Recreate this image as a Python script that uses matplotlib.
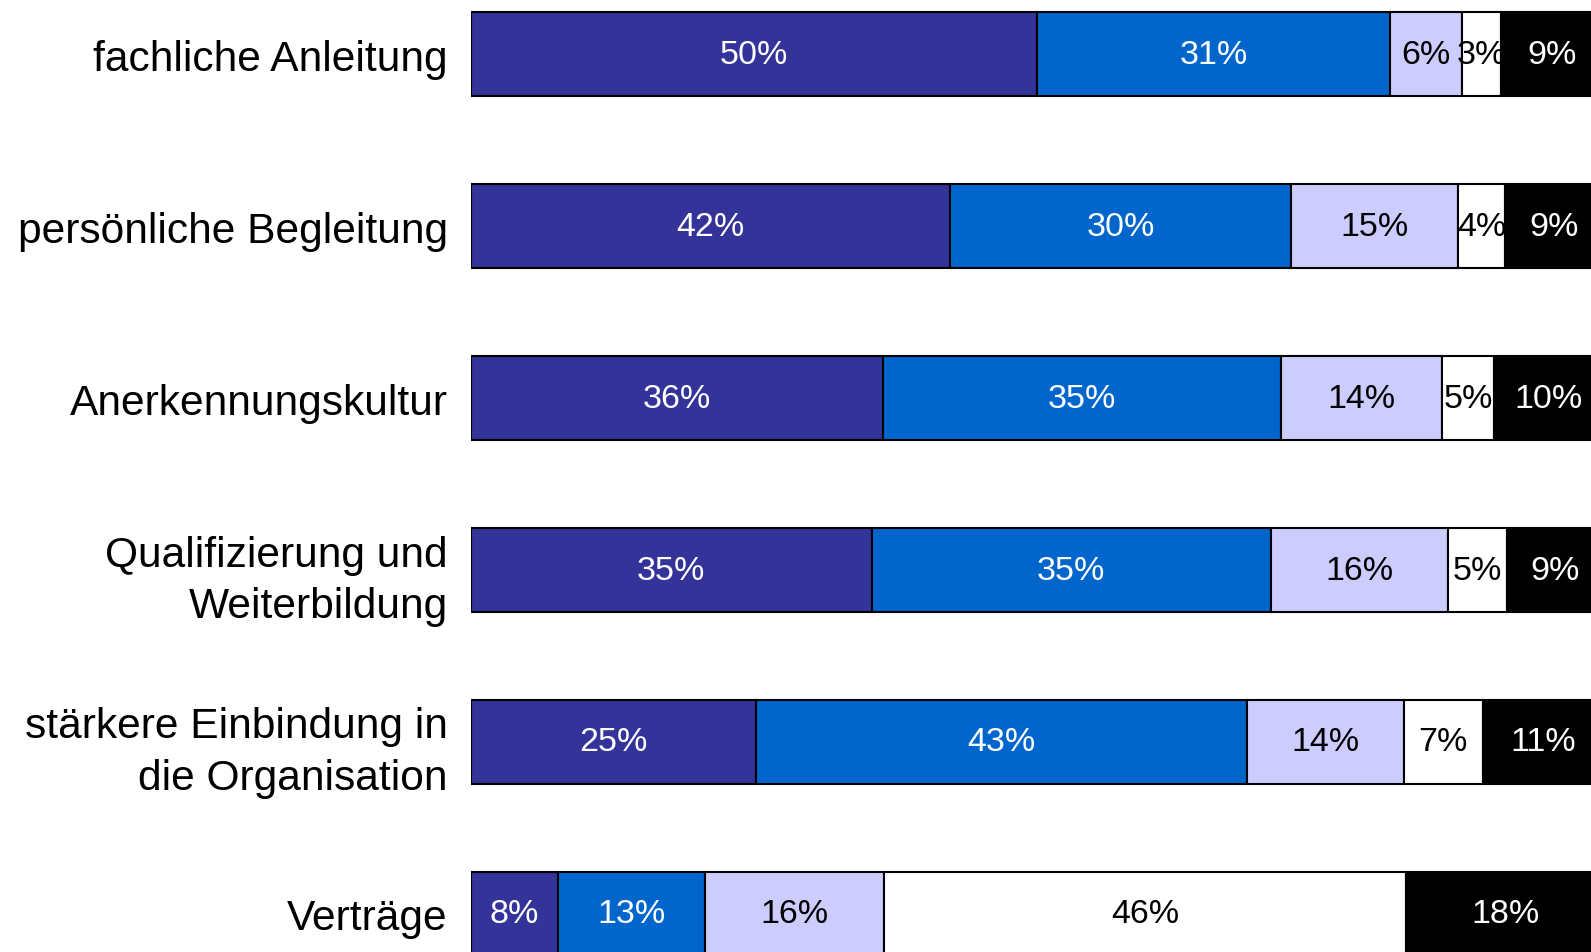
import numpy as np
import matplotlib.pyplot as plt

# Kategorien (von oben nach unten)
kategorien = ["fachliche Anleitung", "persönliche Begleitung", "Anerkennungskultur",
              "Qualifizierung und\nWeiterbildung", "stärkere Einbindung in\ndie Organisation",
              "Verträge"]

# Anteile je Antwortstufe in %
stufe1 = [50.0, 42.3, 36.4, 35.4, 25.2, 7.7]
stufe2 = [31.2, 30.2, 35.2, 35.3, 43.4, 13.0]
stufe3 = [6.4, 14.7, 14.2, 15.6, 13.8, 15.8]
stufe4 = [3.4, 4.2, 4.6, 5.2, 7.0, 46.1]
stufe5 = [9.0, 8.6, 9.6, 8.6, 10.6, 17.6]

farben = ["#333399", "#0066CC", "#CCCCFF", "#FFFFFF", "#000000"]
textfarben = ["white", "white", "black", "black", "white"]

plt.rcParams['font.family'] = ['Liberation Sans', 'DejaVu Sans']

W, H = 1591, 953
fig = plt.figure(figsize=(W / 100, H / 100), dpi=100)
x0 = 470.8 / W
ax = fig.add_axes([x0, 0, 1 - x0, 1])

y = np.arange(len(kategorien))
links = np.zeros(len(kategorien))
for werte, farbe, tf in zip([stufe1, stufe2, stufe3, stufe4, stufe5], farben, textfarben):
    werte = np.array(werte)
    ax.barh(y, werte, left=links, height=0.49, color=farbe, edgecolor="black", linewidth=1.5)
    for i, v in enumerate(werte):
        ax.text(links[i] + v / 2, y[i], f"{round(v)}%", ha="center", va="center",
                color=tf, fontsize=24.5)
    links += werte

ax.set_xlim(0, 98.96)
ax.set_ylim(5.222, -0.322)
ax.set_yticks(y)
ax.set_yticklabels(kategorien, fontsize=30.6, linespacing=1.38)
ax.tick_params(axis="y", length=0, pad=16.6)
ax.set_xticks([])
for s in ax.spines.values():
    s.set_visible(False)

fig.savefig("out.png", dpi=100)
